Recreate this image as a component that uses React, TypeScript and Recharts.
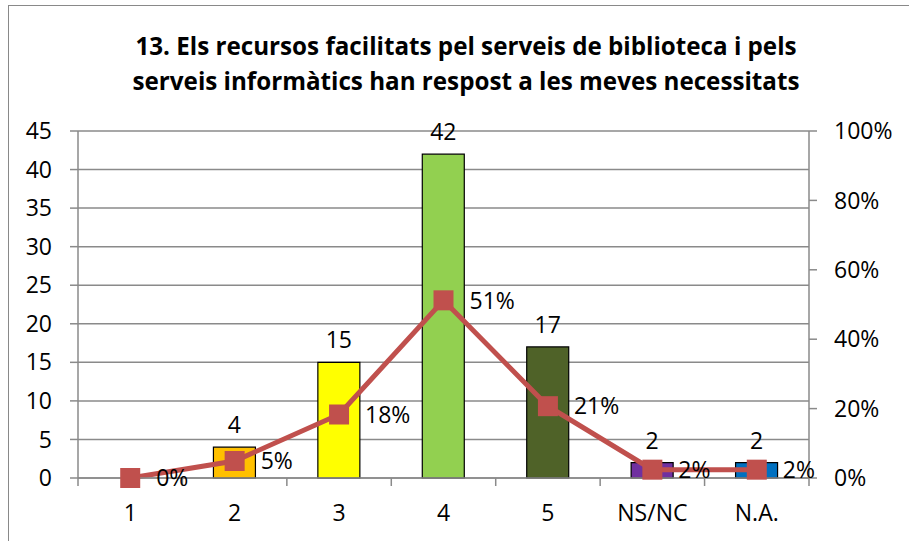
import { ComposedChart, Bar, Line, XAxis, YAxis, CartesianGrid, LabelList, Cell } from "recharts";

const categories = ["1", "2", "3", "4", "5", "NS/NC", "N.A."];
const counts = [0, 4, 15, 42, 17, 2, 2];
const shares = [0, 0.049, 0.183, 0.512, 0.207, 0.024, 0.024];
const barColors = ["#C0504D", "#FFC000", "#FFFF00", "#92D050", "#4F6228", "#7030A0", "#0070C0"];
const countTicks = [0, 5, 10, 15, 20, 25, 30, 35, 40, 45];
const shareTicks = [0, 0.2, 0.4, 0.6, 0.8, 1];

const data = categories.map((c, i) => ({ cat: c, count: counts[i], pct: shares[i] }));

const W = 900;
const H = 534;
const LEFT_W = 69;
const RIGHT_W = 100;
const TOP = 125;
const XAXIS_H = 62;
const PLOT_BOTTOM = H - XAXIS_H;
const BAND = (W - LEFT_W - RIGHT_W) / categories.length;

const FONT = "'Open Sans', 'Liberation Sans', sans-serif";
const GRID = "#8a8a8a";
const RED = "#C0504D";

const pctFmt = (v: number) => `${Math.round(v * 100)}%`;

function CatTick(props: any) {
  const { x, payload, index } = props;
  const half = BAND / 2;
  return (
    <g>
      <line x1={x - half} x2={x - half} y1={PLOT_BOTTOM} y2={PLOT_BOTTOM + 8} stroke={GRID} strokeWidth={1.5} />
      {index === categories.length - 1 && (
        <line x1={x + half} x2={x + half} y1={PLOT_BOTTOM} y2={PLOT_BOTTOM + 8} stroke={GRID} strokeWidth={1.5} />
      )}
      <text x={x} y={PLOT_BOTTOM + 43} textAnchor="middle" fontSize={23} fontFamily={FONT} fill="#000">
        {payload.value}
      </text>
    </g>
  );
}

function SquareDot(props: any) {
  const { cx, cy } = props;
  if (cx == null || cy == null) return null;
  return <rect x={cx - 10} y={cy - 10} width={20} height={20} fill={RED} />;
}

export default function App() {
  return (
    <div style={{ position: "absolute", left: 0, top: 0, width: 909, height: 541, overflow: "hidden", background: "#fff" }}>
      <div
        style={{
          position: "absolute",
          left: 8,
          top: 5,
          width: 914,
          height: 545,
          border: "1px solid #898989",
          boxSizing: "border-box",
        }}
      >
        <div
          style={{
            position: "absolute",
            left: 0,
            top: 22,
            width: 914,
            textAlign: "center",
            fontFamily: FONT,
            fontWeight: 700,
            fontSize: 24.2,
            lineHeight: "35px",
            color: "#000",
          }}
        >
          13. Els recursos facilitats pel serveis de biblioteca i pels
          <br />
          serveis informàtics han respost a les meves necessitats
        </div>
        <div style={{ position: "absolute", left: 0, top: 0 }}>
          <ComposedChart width={W} height={H} data={data} margin={{ top: TOP, right: 0, bottom: 0, left: 0 }}>
            <CartesianGrid yAxisId="left" vertical={false} stroke={GRID} strokeWidth={1.5} />
            <XAxis
              dataKey="cat"
              height={XAXIS_H}
              axisLine={{ stroke: GRID, strokeWidth: 1.5 }}
              tickLine={false}
              tick={<CatTick />}
              interval={0}
            />
            <YAxis
              yAxisId="left"
              width={LEFT_W}
              domain={[0, 45]}
              ticks={countTicks}
              interval={0}
              axisLine={{ stroke: GRID, strokeWidth: 1.5 }}
              tickLine={{ stroke: GRID, strokeWidth: 1.5 }}
              tickSize={8}
              tickMargin={18}
              tick={{ fontSize: 23, fontFamily: FONT, fill: "#000" }}
            />
            <YAxis
              yAxisId="right"
              orientation="right"
              width={RIGHT_W}
              domain={[0, 1]}
              ticks={shareTicks}
              interval={0}
              tickFormatter={pctFmt}
              axisLine={{ stroke: GRID, strokeWidth: 1.5 }}
              tickLine={{ stroke: GRID, strokeWidth: 1.5 }}
              tickSize={8}
              tickMargin={17}
              tick={{ fontSize: 23, fontFamily: FONT, fill: "#000" }}
            />
            <Bar yAxisId="left" dataKey="count" barSize={42} stroke="#000" strokeWidth={1.2} isAnimationActive={false}>
              {data.map((d, i) => (
                <Cell key={d.cat} fill={barColors[i]} />
              ))}
              <LabelList dataKey="count" position="top" offset={14} fontSize={23} fontFamily={FONT} fill="#000" />
            </Bar>
            <Line
              yAxisId="right"
              dataKey="pct"
              stroke={RED}
              strokeWidth={5}
              dot={<SquareDot />}
              activeDot={false}
              isAnimationActive={false}
            >
              <LabelList
                dataKey="pct"
                position="right"
                offset={26}
                formatter={(v: any) => pctFmt(Number(v))}
                fontSize={23}
                fontFamily={FONT}
                fill="#000"
              />
            </Line>
          </ComposedChart>
        </div>
      </div>
    </div>
  );
}
